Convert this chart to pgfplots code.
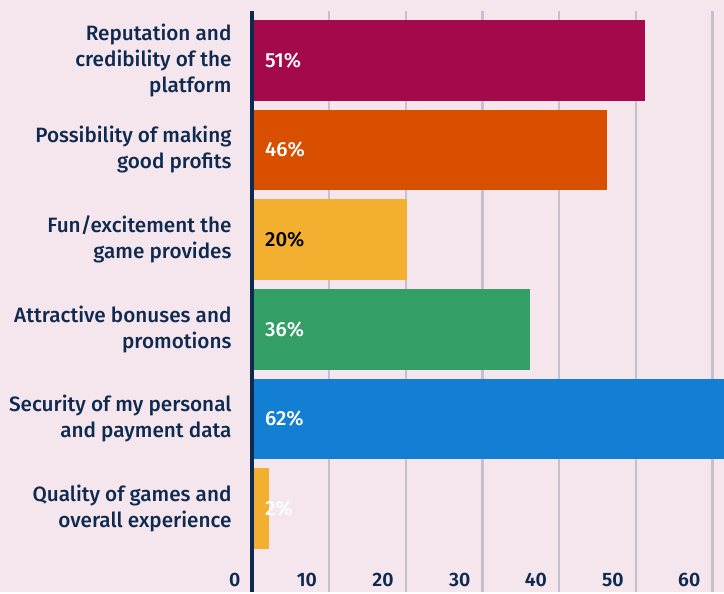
\documentclass[border=0pt]{standalone}
\usepackage{fontspec}
\setmainfont{Fira Sans}[UprightFont=* Medium, BoldFont=* SemiBold]
\usepackage{pgfplots}
\pgfplotsset{compat=1.18}
\usetikzlibrary{backgrounds,calc}
\definecolor{navy}{HTML}{0E2A4F}
\definecolor{bgc}{HTML}{F5E5ED}
\definecolor{gridc}{HTML}{C5BFCF}
\definecolor{crim}{HTML}{A3094B}
\definecolor{orng}{HTML}{D94F00}
\definecolor{yell}{HTML}{F2AF30}
\definecolor{grn}{HTML}{339E66}
\definecolor{blu}{HTML}{137FD3}
\begin{document}
\begin{tikzpicture}
\begin{axis}[name=ax, width=471.5bp, height=581bp, scale only axis,
  xmin=0, xmax=61.49, ymin=-0.93, ymax=5.55,
  axis line style={draw=none},
  xtick={0,10,...,60}, ytick={0,...,5},
  yticklabels={{Quality of games and\\overall experience},{Security of my personal\\and payment data},{Attractive bonuses and\\promotions},{Fun/excitement the\\game provides},{Possibility of making\\good profits},{Reputation and\\credibility of the\\platform}},
  major tick length=0pt,
  xmajorgrids, grid style={color=gridc, line width=2.2bp},
  tick label style={font=\fontsize{20.8}{26}\selectfont, text=navy},
  yticklabel style={align=right, inner sep=0pt, anchor=east, xshift=-20.8bp},
  xticklabel style={anchor=base east, inner sep=0pt, xshift=-12bp, yshift=5.3bp, font=\fontsize{19.5}{24}\selectfont\bfseries},
  /pgf/number format/assume math mode=true,
  every axis plot/.append style={xshift=1.5bp},
]
\addplot[xbar, bar shift=0pt, bar width=0.9, fill=crim, draw=none] coordinates {(51,5)};
\addplot[xbar, bar shift=0pt, bar width=0.9, fill=orng, draw=none] coordinates {(46,4)};
\addplot[xbar, bar shift=0pt, bar width=0.9, fill=yell, draw=none] coordinates {(20,3)};
\addplot[xbar, bar shift=0pt, bar width=0.9, fill=grn, draw=none] coordinates {(36,2)};
\addplot[xbar, bar shift=0pt, bar width=0.9, fill=blu, draw=none] coordinates {(62,1)};
\addplot[xbar, bar shift=0pt, bar width=0.9, fill=yell, draw=none] coordinates {(2,0)};
\addplot[draw=none, mark=none, nodes near coords, point meta=explicit symbolic,
  every node near coord/.append style={anchor=west, inner sep=0pt, xshift=11bp, font=\fontsize{20.5}{24}\selectfont, text=white}]
  coordinates {(0,5) [51\%] (0,4) [46\%] (0,3) [\textcolor{black}{20\%}] (0,2) [36\%] (0,1) [62\%] (0,0) [2\%]};
\end{axis}
\draw[navy, line width=4bp] (ax.south west) -- (ax.north west);
\begin{scope}[on background layer]
\fill[bgc] ($(ax.south west)+(-252.5bp,0)$) rectangle ($(ax.north east)+(0,11bp)$);
\end{scope}
\end{tikzpicture}
\end{document}
